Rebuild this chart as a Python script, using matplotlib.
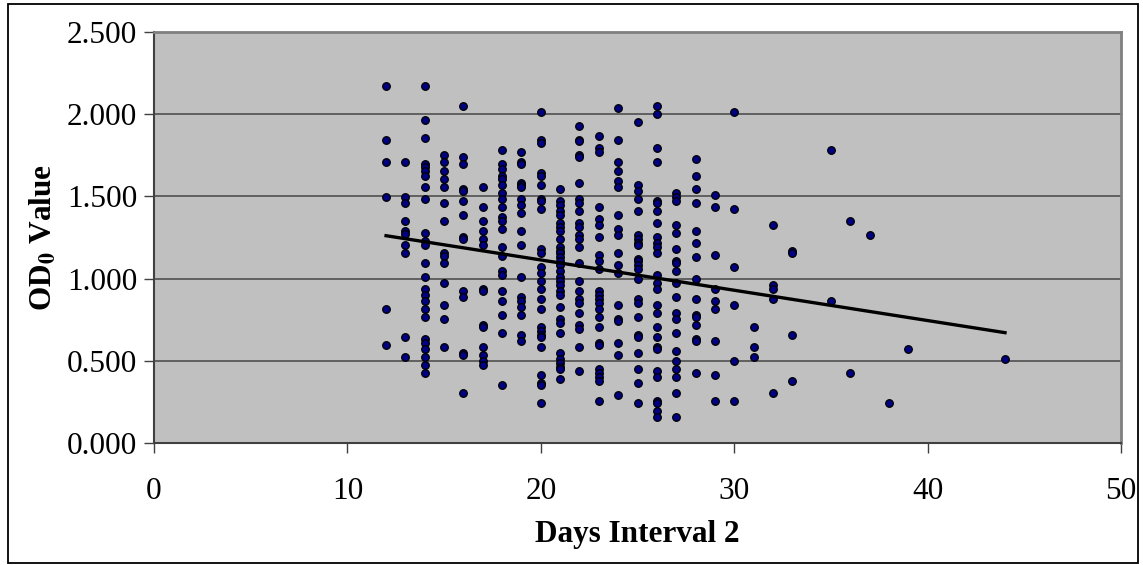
import numpy as np
import matplotlib
matplotlib.use("Agg")
import matplotlib.pyplot as plt
from matplotlib.patches import Rectangle

# OD0 values, one list per day interval
od_12 = [2.174, 1.846, 1.712, 1.494, 0.815, 0.596]
od_13 = [1.712, 1.494, 1.458, 1.348, 1.292, 1.272, 1.203, 1.154, 0.644, 0.523]
od_14 = [2.174, 1.967, 1.858, 1.700, 1.676, 1.652, 1.627, 1.555, 1.482, 1.276, 1.227, 1.203,
         1.093, 1.009, 0.936, 0.899, 0.863, 0.814, 0.766, 0.632, 0.608, 0.572, 0.523, 0.475, 0.426]
od_15 = [1.749, 1.712, 1.652, 1.603, 1.555, 1.458, 1.348, 1.154, 1.138, 1.093, 0.972, 0.839, 0.754, 0.584]
od_16 = [2.052, 1.737, 1.700, 1.543, 1.530, 1.470, 1.385, 1.251, 1.239, 0.924, 0.887, 0.547, 0.535, 0.305]
od_17 = [1.555, 1.433, 1.348, 1.288, 1.239, 1.203, 0.936, 0.924, 0.717, 0.705, 0.584, 0.535, 0.499, 0.475]
od_18 = [1.785, 1.700, 1.664, 1.627, 1.603, 1.567, 1.518, 1.482, 1.433, 1.373, 1.348, 1.300,
         1.191, 1.138, 1.045, 1.021, 0.924, 0.863, 0.778, 0.669, 0.353]
od_19 = [1.773, 1.712, 1.700, 1.579, 1.567, 1.555, 1.482, 1.445, 1.397, 1.288, 1.203,
         1.009, 0.887, 0.863, 0.826, 0.778, 0.657, 0.620]
od_20 = [2.016, 1.846, 1.822, 1.640, 1.627, 1.567, 1.482, 1.470, 1.421, 1.178, 1.154, 1.069, 1.033,
         0.984, 0.936, 0.875, 0.814, 0.705, 0.681, 0.657, 0.644, 0.584, 0.414, 0.365, 0.353, 0.244]
od_21 = [1.543, 1.470, 1.445, 1.409, 1.385, 1.336, 1.312, 1.288, 1.239, 1.191, 1.166, 1.154, 1.130,
         1.106, 1.081, 1.045, 1.009, 0.984, 0.960, 0.924, 0.899, 0.826, 0.754, 0.729, 0.669,
         0.547, 0.511, 0.487, 0.462, 0.450, 0.390]
od_22 = [1.931, 1.846, 1.834, 1.749, 1.737, 1.579, 1.482, 1.458, 1.409, 1.336, 1.312, 1.263, 1.239,
         1.191, 1.093, 0.984, 0.924, 0.875, 0.851, 0.790, 0.717, 0.693, 0.584, 0.438]
od_23 = [1.870, 1.797, 1.773, 1.433, 1.360, 1.324, 1.251, 1.142, 1.106, 1.057, 0.924, 0.899, 0.875,
         0.851, 0.814, 0.766, 0.705, 0.608, 0.596, 0.450, 0.426, 0.402, 0.377, 0.256]
od_24 = [2.040, 1.846, 1.712, 1.652, 1.591, 1.555, 1.385, 1.300, 1.263, 1.154, 1.081, 1.033,
         0.839, 0.754, 0.742, 0.608, 0.535, 0.293]
od_25 = [1.955, 1.567, 1.530, 1.482, 1.409, 1.263, 1.239, 1.215, 1.203, 1.118, 1.106, 1.081, 1.057,
         0.996, 0.875, 0.851, 0.766, 0.657, 0.644, 0.547, 0.450, 0.365, 0.244]
od_26 = [2.052, 2.004, 1.797, 1.712, 1.470, 1.458, 1.409, 1.336, 1.251, 1.215, 1.191, 1.154, 1.021,
         0.972, 0.936, 0.839, 0.790, 0.705, 0.644, 0.584, 0.572, 0.438, 0.402, 0.256, 0.244, 0.195, 0.159]
od_27 = [1.518, 1.494, 1.470, 1.324, 1.276, 1.178, 1.106, 1.093, 1.045, 0.972, 0.887, 0.790, 0.754,
         0.669, 0.559, 0.499, 0.450, 0.402, 0.305, 0.159]
od_28 = [1.725, 1.627, 1.543, 1.458, 1.288, 1.215, 1.130, 0.996, 0.875, 0.778, 0.766, 0.717, 0.632, 0.620, 0.426]
od_29 = [1.506, 1.433, 1.142, 0.936, 0.863, 0.814, 0.620, 0.414, 0.256]
od_30 = [2.016, 1.421, 1.069, 0.839, 0.499, 0.256]
od_31 = [0.705, 0.584, 0.523]
od_32 = [1.324, 0.960, 0.936, 0.875, 0.305]
od_33 = [1.166, 1.154, 0.657, 0.377]
od_35 = [1.785, 0.863]
od_36 = [1.348, 0.426]
od_37 = [1.263]
od_38 = [0.244]
od_39 = [0.572]
od_44 = [0.511]

groups = {12: od_12, 13: od_13, 14: od_14, 15: od_15, 16: od_16, 17: od_17, 18: od_18,
          19: od_19, 20: od_20, 21: od_21, 22: od_22, 23: od_23, 24: od_24, 25: od_25,
          26: od_26, 27: od_27, 28: od_28, 29: od_29, 30: od_30, 31: od_31, 32: od_32,
          33: od_33, 35: od_35, 36: od_36, 37: od_37, 38: od_38, 39: od_39, 44: od_44}

x_ticks = [0, 10, 20, 30, 40, 50]
y_ticks = [0.0, 0.5, 1.0, 1.5, 2.0, 2.5]

days = []
od = []
for d, vals in groups.items():
    days += [d] * len(vals)
    od += vals
days = np.array(days, dtype=float)
od = np.array(od)

plt.rcParams['font.family'] = ['Liberation Serif', 'DejaVu Serif']
plt.rcParams['mathtext.fontset'] = 'stix'

fig = plt.figure(figsize=(11.43, 5.65), dpi=100)
ax = fig.add_axes([0.1347, 0.2159, 0.8461, 0.7275])
ax.set_facecolor('#C0C0C0')

for yv in y_ticks[1:]:
    ax.axhline(yv, color='#505050', lw=1.2, zorder=1)

ax.scatter(days, od, s=30, c='#000080', edgecolors='black', linewidths=0.9, zorder=3)

# linear trend line
k, b = np.polyfit(days, od, 1)
xl = np.array([days.min(), days.max()])
ax.plot(xl, k * xl + b, color='black', lw=2.4, zorder=4)

ax.set_xlim(0, 50)
ax.set_ylim(0, 2.5)
ax.set_xticks(x_ticks)
ax.set_yticks(y_ticks)
ax.set_yticklabels(['%.3f' % v for v in y_ticks])
ax.tick_params(axis='x', direction='out', length=7.2, width=1, color='#404040',
               labelsize=22.5, pad=17)
ax.tick_params(axis='y', direction='out', length=7.2, width=1, color='#404040',
               labelsize=22.5, pad=5)

for s in ['top', 'right']:
    ax.spines[s].set_color('#808080')
    ax.spines[s].set_linewidth(2)
for s in ['left', 'bottom']:
    ax.spines[s].set_color('#404040')
    ax.spines[s].set_linewidth(1.5)

ax.set_xlabel('Days Interval 2', fontsize=22.5, fontweight='bold', labelpad=10)
ax.set_ylabel(r'OD$_\mathbf{0}$ Value', fontsize=22.5, fontweight='bold', labelpad=6)

fig.patches.append(Rectangle((0.007, 0.004), 0.989, 0.989, transform=fig.transFigure,
                             fill=False, edgecolor='black', lw=1.3))

fig.savefig('out.png', dpi=100)
